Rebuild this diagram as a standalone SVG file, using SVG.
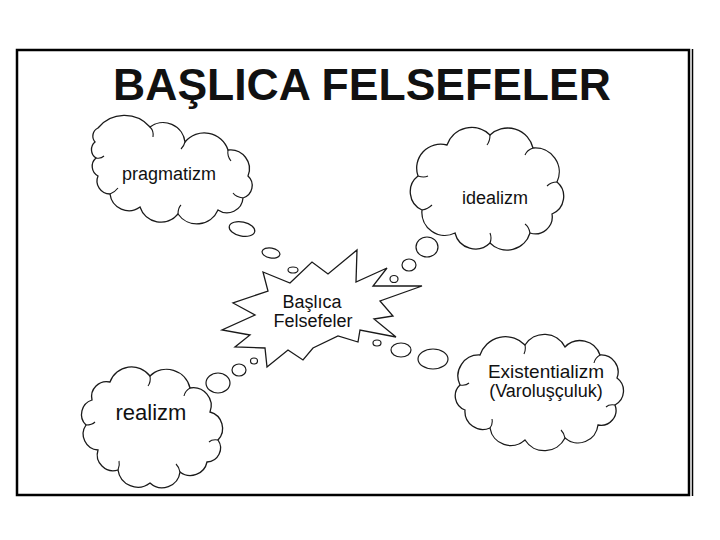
<svg xmlns="http://www.w3.org/2000/svg" width="720" height="540" viewBox="0 0 720 540">
<style>
.o{fill:#fff;stroke:#1a1a1a;stroke-width:1.3}
.b{fill:#fff;stroke:#1a1a1a;stroke-width:1.2}
.i{fill:none;stroke:#1a1a1a;stroke-width:1.1}
.t{font-family:"Liberation Sans",Arial,sans-serif;fill:#111;text-anchor:middle}
</style>
<rect width="720" height="540" fill="#fff"/>
<g id="frame">
<rect x="17" y="50" width="672" height="445" fill="none" stroke="#000" stroke-width="2.5"/>
<line x1="692.5" y1="49" x2="692.5" y2="496" stroke="#000" stroke-width="1.5"/>
</g>
<g id="title">
<text class="t" x="362" y="100" font-size="44.5" font-weight="bold" fill="#000">BAŞLICA FELSEFELER</text>
</g>
<g id="connectors">
<ellipse class="b" cx="242" cy="229" rx="13" ry="7" transform="rotate(12 242 229)"/>
<ellipse class="b" cx="271" cy="253" rx="9" ry="5" transform="rotate(10 271 253)"/>
<ellipse class="b" cx="293" cy="270" rx="5" ry="3"/>
<ellipse class="b" cx="427" cy="247" rx="11" ry="10"/>
<ellipse class="b" cx="409" cy="265" rx="7" ry="6"/>
<ellipse class="b" cx="394" cy="279" rx="4" ry="3.5"/>
<ellipse class="b" cx="377" cy="343" rx="4" ry="3"/>
<ellipse class="b" cx="401" cy="350" rx="10" ry="7"/>
<ellipse class="b" cx="433" cy="359" rx="15" ry="10"/>
<ellipse class="b" cx="254" cy="361" rx="3.5" ry="3"/>
<ellipse class="b" cx="239" cy="370" rx="7" ry="6"/>
<ellipse class="b" cx="218" cy="383" rx="12" ry="10"/>
</g>
<g id="center">
<polygon class="o" points="263,272 290,283 312,262 328,274 357,250 356,282 387,268 373,286 422,286 380,301 393,316 374,319 396,337 360,330 358,342 338,336 313,348 303,360 288,350 267,367 265,348 235,347 250,335 222,330 255,315 233,303 268,291"/>
<text class="t" x="312" y="308" font-size="18">Başlıca</text>
<text class="t" x="313" y="327" font-size="18">Felsefeler</text>
</g>
<g id="pragmatizm">
<path class="o" d="M98,128 A34,34 0 0 1 150,127 A22,22 0 0 1 185,142 A25,25 0 0 1 228,150 A19,19 0 0 1 248,176 A13,13 0 0 1 243,198 A16,16 0 0 1 218,210 A23,23 0 0 1 178,214 A22,22 0 0 1 140,207 A19,19 0 0 1 110,194 A13,13 0 0 1 98,176 A11,11 0 0 1 96,158 A10,10 0 0 1 95,142 A9,9 0 0 1 98,128 Z"/>
<path class="i" d="M150,127 q4,4 3,10 M185,142 q-1,4 -4,7 M228,150 q-1,6 3,11 M243,198 q-7,-1 -10,-5 M178,214 q0,-6 3,-9 M110,194 q5,-2 8,-6 M96,158 q5,1 8,-2"/>
<text class="t" x="169" y="180" font-size="18">pragmatizm</text>
</g>
<g id="idealizm">
<path class="o" d="M447,145 A26,26 0 0 1 490,135 A26,26 0 0 1 533,148 A24,24 0 0 1 557,182 A19,19 0 0 1 552,214 A17,17 0 0 1 530,233 A24,24 0 0 1 490,243 A21,21 0 0 1 455,233 A23,23 0 0 1 422,210 A20,20 0 0 1 418,176 A24,24 0 0 1 447,145 Z"/>
<path class="i" d="M490,135 q0,6 -3,10 M533,148 q-6,2 -8,7 M557,182 q-6,0 -10,4 M530,233 q-1,-6 -5,-9 M490,243 q2,-5 0,-10 M422,210 q6,-1 10,-5 M418,176 q6,2 10,0"/>
<text class="t" x="495" y="204" font-size="18">idealizm</text>
</g>
<g id="realizm">
<path class="o" d="M110,382 A23,23 0 0 1 150,376 A24,24 0 0 1 190,388 A18,18 0 0 1 210,412 A17,17 0 0 1 218,440 A14,14 0 0 1 207,462 A17,17 0 0 1 180,472 A18,18 0 0 1 150,483 A20,20 0 0 1 118,470 A16,16 0 0 1 98,450 A16,16 0 0 1 86,425 A15,15 0 0 1 92,400 A15,15 0 0 1 110,382 Z"/>
<path class="i" d="M150,376 q1,6 -2,10 M190,388 q-5,3 -6,8 M218,440 q-6,-1 -9,2 M180,472 q-1,-5 -4,-8 M118,470 q2,-5 1,-9 M86,425 q6,0 9,-3"/>
<text class="t" x="151" y="420" font-size="22">realizm</text>
</g>
<g id="existentialism">
<path class="o" d="M480,355 A27,27 0 0 1 525,345 A23,23 0 0 1 565,347 A21,21 0 0 1 600,355 A17,17 0 0 1 617,378 A16,16 0 0 1 615,405 A15,15 0 0 1 598,425 A20,20 0 0 1 565,438 A23,23 0 0 1 525,440 A21,21 0 0 1 490,428 A18,18 0 0 1 465,410 A15,15 0 0 1 460,385 A21,21 0 0 1 480,355 Z"/>
<path class="i" d="M525,345 q1,5 -1,9 M600,355 q-5,3 -6,8 M615,405 q-6,-1 -9,2 M565,438 q-1,-5 -4,-8 M490,428 q3,-4 2,-9 M460,385 q6,1 9,-2"/>
<text class="t" x="546" y="378" font-size="19">Existentializm</text>
<text class="t" x="546" y="397" font-size="18">(Varoluşçuluk)</text>
</g>
</svg>
